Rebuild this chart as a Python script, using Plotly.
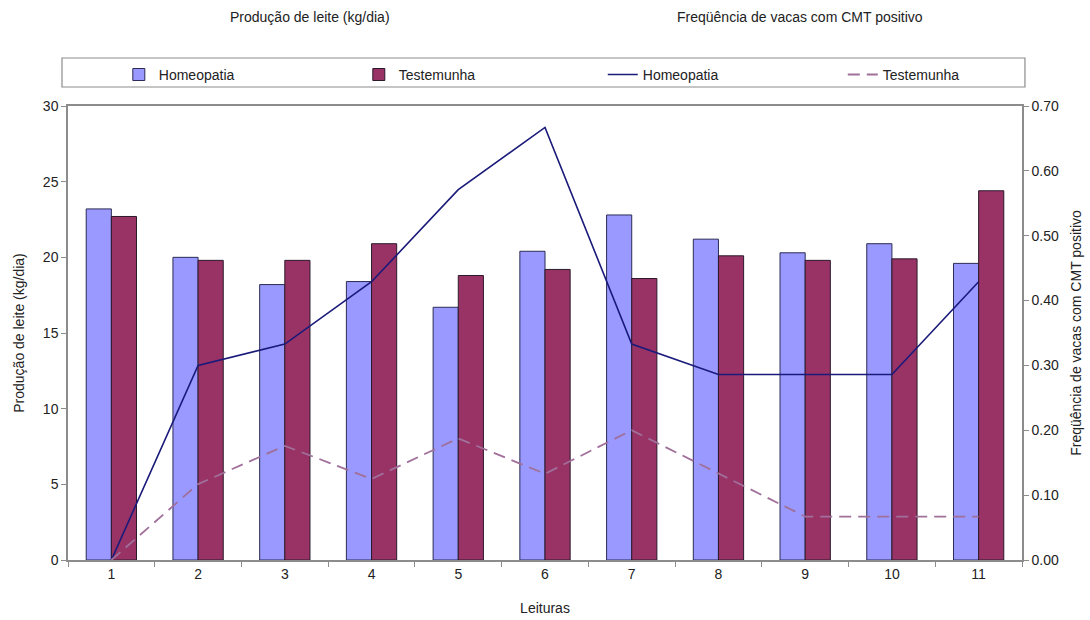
import plotly.graph_objects as go

# Leituras (readings) and series values
leituras = ["1", "2", "3", "4", "5", "6", "7", "8", "9", "10", "11"]
leite_homeopatia = [23.2, 20.0, 18.2, 18.4, 16.7, 20.4, 22.8, 21.2, 20.3, 20.9, 19.6]
leite_testemunha = [22.7, 19.8, 19.8, 20.9, 18.8, 19.2, 18.6, 20.1, 19.8, 19.9, 24.4]
cmt_homeopatia = [0.0, 0.30, 0.333, 0.429, 0.571, 0.667, 0.333, 0.286, 0.286, 0.286, 0.429]
cmt_testemunha = [0.0, 0.117, 0.176, 0.125, 0.1875, 0.133, 0.20, 0.133, 0.067, 0.067, 0.067]
y1_ticks = [0, 5, 10, 15, 20, 25, 30]
y2_ticks = [0.0, 0.1, 0.2, 0.3, 0.4, 0.5, 0.6, 0.7]

FONT = "Liberation Sans, Arial, sans-serif"
AXIS_GRAY = "#8c8c8c"
TEXT = "#222222"

fig = go.Figure()

fig.add_trace(go.Bar(
    x=leituras, y=leite_homeopatia, name="Homeopatia", legend="legend",
    marker=dict(color="#9999ff", line=dict(color="#2b2b55", width=1)),
))
fig.add_trace(go.Bar(
    x=leituras, y=leite_testemunha, name="Testemunha", legend="legend",
    marker=dict(color="#993366", line=dict(color="#2b1a2b", width=1)),
))
fig.add_trace(go.Scatter(
    x=leituras, y=cmt_homeopatia, name="Homeopatia", yaxis="y2", legend="legend2",
    mode="lines", line=dict(color="#1a1a7a", width=1.6),
))
fig.add_trace(go.Scatter(
    x=leituras, y=cmt_testemunha, name="Testemunha", yaxis="y2", legend="legend2",
    mode="lines", line=dict(color="#a0709a", width=1.8, dash="12px,7px"),
))

legend_style = dict(
    orientation="h", xref="container", yref="container",
    xanchor="left", y=0.905, yanchor="top",
    borderwidth=0, bgcolor="rgba(0,0,0,0)",
    entrywidth=195, entrywidthmode="pixels",
    font=dict(family=FONT, size=14, color=TEXT),
    traceorder="normal",
)

fig.update_layout(
    width=1090, height=620,
    margin=dict(l=68, r=68, t=106, b=60, autoexpand=False),
    paper_bgcolor="white", plot_bgcolor="white",
    font=dict(family=FONT, size=14, color=TEXT),
    barmode="group", bargap=0.42, bargroupgap=0,
    showlegend=True,
    legend=dict(x=0.109, **legend_style),
    legend2=dict(x=0.553, **legend_style),
    xaxis=dict(
        type="category", tickson="boundaries", ticks="outside", ticklen=5,
        tickcolor=AXIS_GRAY, showline=True, linecolor=AXIS_GRAY, linewidth=1.5,
        mirror=True, showgrid=False, zeroline=False,
        tickfont=dict(size=14, color=TEXT),
        title=dict(text="Leituras", font=dict(size=14, color=TEXT), standoff=23),
    ),
    yaxis=dict(
        range=[0, 30], tickvals=y1_ticks, ticks="outside", ticklen=5,
        tickcolor=AXIS_GRAY, showline=True, linecolor=AXIS_GRAY, linewidth=1.5,
        showgrid=False, zeroline=False,
        tickfont=dict(size=14, color=TEXT),
        title=dict(text="Produção de leite (kg/dia)", font=dict(size=14, color=TEXT), standoff=15),
    ),
    yaxis2=dict(
        range=[0, 0.7], tickvals=y2_ticks, tickformat=".2f", overlaying="y",
        side="right", ticks="outside", ticklen=5, tickcolor=AXIS_GRAY,
        showline=True, linecolor=AXIS_GRAY, linewidth=1.5,
        showgrid=False, zeroline=False,
        tickfont=dict(size=14, color=TEXT),
        title=dict(text="Freqüência de vacas com CMT positivo", font=dict(size=14, color=TEXT), standoff=13),
    ),
    shapes=[
        # frame around the legend row
        dict(type="rect", xref="paper", yref="paper",
             x0=-0.0063, x1=1.0031, y0=1.0419, y1=1.1057,
             line=dict(color="#8c8c8c", width=1.2), fillcolor="rgba(0,0,0,0)",
             layer="below"),
    ],
    annotations=[
        dict(text="Produção de leite (kg/dia)", xref="paper", yref="paper",
             x=0.254, y=1.195, xanchor="center", yanchor="middle", showarrow=False,
             font=dict(family=FONT, size=14, color=TEXT)),
        dict(text="Freqüência de vacas com CMT positivo", xref="paper", yref="paper",
             x=0.767, y=1.195, xanchor="center", yanchor="middle", showarrow=False,
             font=dict(family=FONT, size=14, color=TEXT)),
    ],
)

fig.write_html("out.html")
